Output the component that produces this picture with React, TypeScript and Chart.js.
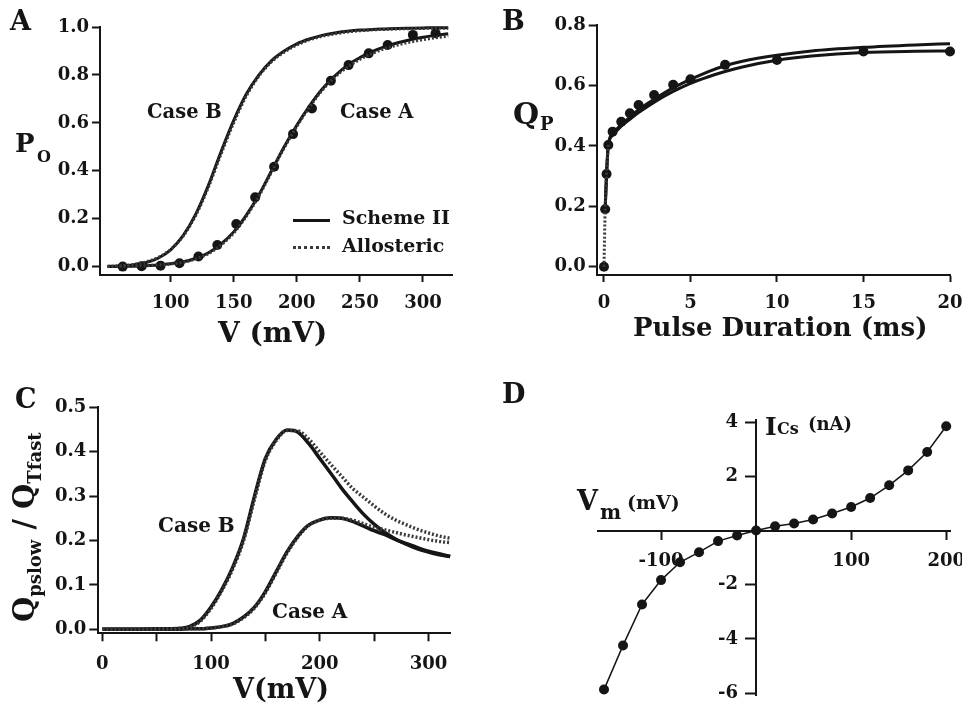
import React, { useEffect, useRef } from 'react';
import { Chart, registerables } from 'chart.js';
Chart.register(...registerables);

const PAGE_W = 962;
const PAGE_H = 706;
const INK = '#151515';
const DOT_INK = '#3a3a3a';
const FAMILY = "'DejaVu Serif', 'Liberation Serif', serif";

// ---------- Panel A : P_O vs V ----------
const A_CURVE_V = [50, 60, 70, 80, 90, 100, 110, 120, 130, 140, 150, 160, 170, 180, 190, 200, 210, 220, 230, 240, 250, 260, 270, 280, 290, 300, 310, 320];
const A_CASEA_SCHEME = [0.000, 0.001, 0.002, 0.004, 0.007, 0.012, 0.020, 0.035, 0.058, 0.095, 0.145, 0.215, 0.300, 0.400, 0.500, 0.590, 0.670, 0.740, 0.795, 0.840, 0.872, 0.898, 0.918, 0.934, 0.947, 0.957, 0.965, 0.972];
const A_CASEA_ALLO = [0.000, 0.001, 0.002, 0.004, 0.007, 0.011, 0.018, 0.032, 0.054, 0.090, 0.140, 0.210, 0.295, 0.395, 0.495, 0.585, 0.665, 0.735, 0.790, 0.832, 0.865, 0.890, 0.910, 0.925, 0.937, 0.947, 0.955, 0.962];
const A_CASEB_SCHEME = [0.001, 0.003, 0.007, 0.016, 0.035, 0.070, 0.130, 0.220, 0.340, 0.480, 0.610, 0.720, 0.800, 0.860, 0.900, 0.930, 0.950, 0.965, 0.975, 0.982, 0.987, 0.990, 0.992, 0.994, 0.995, 0.996, 0.997, 0.997];
const A_CASEB_ALLO = [0.001, 0.004, 0.009, 0.019, 0.038, 0.072, 0.128, 0.215, 0.332, 0.470, 0.600, 0.712, 0.795, 0.855, 0.895, 0.925, 0.946, 0.961, 0.971, 0.979, 0.984, 0.988, 0.990, 0.992, 0.993, 0.994, 0.995, 0.995];
const A_DATA_V = [62, 77, 92, 107, 122, 137, 152, 167, 182, 197, 212, 227, 241, 257, 272, 292, 310];
const A_DATA_PO = [0.0, 0.002, 0.004, 0.014, 0.042, 0.09, 0.178, 0.289, 0.417, 0.553, 0.66, 0.776, 0.841, 0.89, 0.925, 0.967, 0.974];
const A_X_TICKS = [100, 150, 200, 250, 300];
const A_Y_TICKS = [0, 0.2, 0.4, 0.6, 0.8, 1.0];

// ---------- Panel B : Q_P vs pulse duration ----------
const B_DATA_T = [0, 0.07, 0.15, 0.25, 0.5, 1, 1.5, 2, 2.9, 4, 5, 7, 10, 15, 20];
const B_DATA_Q = [0, 0.19, 0.307, 0.403, 0.447, 0.48, 0.508, 0.535, 0.568, 0.602, 0.62, 0.668, 0.684, 0.712, 0.712];
const B_RISE_T = [0, 0.07, 0.15, 0.25];
const B_RISE_Q = [0, 0.19, 0.307, 0.403];
const B_FIT_T = [0.07, 0.15, 0.25, 0.5, 1, 1.5, 2, 3, 4, 5, 6, 7, 8, 10, 12, 15, 18, 20];
const B_FIT_UPPER = [0.19, 0.307, 0.403, 0.44, 0.47, 0.495, 0.52, 0.558, 0.592, 0.62, 0.645, 0.665, 0.68, 0.70, 0.714, 0.726, 0.734, 0.738];
const B_FIT_LOWER = [0.19, 0.307, 0.40, 0.435, 0.465, 0.488, 0.51, 0.548, 0.58, 0.607, 0.628, 0.646, 0.661, 0.683, 0.697, 0.709, 0.713, 0.714];
const B_X_TICKS = [0, 5, 10, 15, 20];
const B_Y_TICKS = [0, 0.2, 0.4, 0.6, 0.8];

// ---------- Panel C : Qpslow / QTfast vs V ----------
const C_V = [0, 25, 50, 70, 80, 90, 100, 110, 120, 130, 140, 150, 160, 170, 180, 190, 200, 210, 220, 230, 240, 250, 260, 270, 280, 290, 300, 310, 320];
const C_CASEB_SCHEME = [0, 0, 0.001, 0.002, 0.006, 0.02, 0.05, 0.09, 0.14, 0.205, 0.30, 0.385, 0.428, 0.449, 0.444, 0.418, 0.385, 0.352, 0.318, 0.288, 0.26, 0.237, 0.218, 0.203, 0.191, 0.181, 0.174, 0.168, 0.164];
const C_CASEB_ALLO = [0, 0, 0.001, 0.002, 0.005, 0.018, 0.047, 0.087, 0.136, 0.2, 0.293, 0.38, 0.425, 0.448, 0.447, 0.428, 0.4, 0.372, 0.345, 0.318, 0.298, 0.278, 0.26, 0.246, 0.235, 0.225, 0.217, 0.21, 0.205];
const C_CASEA_SCHEME = [0, 0, 0, 0, 0.001, 0.001, 0.003, 0.006, 0.013, 0.028, 0.05, 0.085, 0.13, 0.175, 0.21, 0.235, 0.246, 0.251, 0.25, 0.243, 0.233, 0.222, 0.213, 0.202, 0.193, 0.184, 0.176, 0.17, 0.164];
const C_CASEA_ALLO = [0, 0, 0, 0, 0.001, 0.001, 0.003, 0.006, 0.012, 0.026, 0.048, 0.082, 0.127, 0.172, 0.208, 0.234, 0.246, 0.25, 0.25, 0.246, 0.238, 0.23, 0.224, 0.218, 0.212, 0.207, 0.202, 0.198, 0.195];
const C_X_TICKS = [0, 50, 100, 150, 200, 250, 300];
const C_Y_TICKS = [0, 0.1, 0.2, 0.3, 0.4, 0.5];

// ---------- Panel D : I_Cs vs Vm ----------
const D_V = [-160, -140, -120, -100, -80, -60, -40, -20, 0, 20, 40, 60, 80, 100, 120, 140, 160, 180, 200];
const D_I = [-5.87, -4.24, -2.73, -1.83, -1.17, -0.8, -0.39, -0.18, 0, 0.16, 0.26, 0.41, 0.63, 0.87, 1.2, 1.67, 2.22, 2.9, 3.85];
const D_X_TICKS = [-100, 100, 200];
const D_Y_TICKS = [-6, -4, -2, 2, 4];

const xy = (xs: number[], ys: number[]) => xs.map((x, i) => ({ x, y: ys[i] }));

type AxisOpts = {
  min: number; max: number; ticks: number[]; size: number; tickLen: number;
  fmt: (v: number) => string; position?: any; pad?: number;
};

function axis(o: AxisOpts) {
  return {
    type: 'linear',
    min: o.min,
    max: o.max,
    position: o.position,
    afterBuildTicks: (s: any) => { s.ticks = o.ticks.map((v) => ({ value: v })); },
    afterFit: (s: any) => {
      if (s.isHorizontal()) s.height = o.size; else s.width = o.size;
      s.paddingLeft = 0; s.paddingRight = 0; s.paddingTop = 0; s.paddingBottom = 0;
    },
    grid: { display: true, drawOnChartArea: false, drawTicks: true, tickLength: o.tickLen, tickWidth: 2, tickColor: INK, color: INK },
    border: { display: true, color: INK, width: 2 },
    ticks: {
      color: INK, padding: o.pad ?? 3, autoSkip: false, maxRotation: 0, minRotation: 0,
      font: { family: FAMILY, size: 18, weight: 'bold' },
      callback: (v: number) => o.fmt(v),
    },
  };
}

function padFor(area: { l: number; r: number; t: number; b: number }, ySize: number, xSize: number) {
  return { left: area.l - ySize, right: PAGE_W - area.r, top: area.t, bottom: PAGE_H - area.b - xSize };
}

function baseOptions(padding: any, scales: any) {
  return {
    responsive: false, maintainAspectRatio: false, animation: false, events: [],
    layout: { padding },
    plugins: { legend: { display: false }, tooltip: { enabled: false } },
    scales,
  };
}

const solid = (data: any[], w = 3) => ({ data, borderColor: INK, borderWidth: w, pointRadius: 0, cubicInterpolationMode: 'monotone', clip: false, fill: false });
const dotted = (data: any[], w = 3) => ({ data, borderColor: DOT_INK, borderWidth: w, borderDash: [2, 2], pointRadius: 0, cubicInterpolationMode: 'monotone', clip: false, fill: false });
const dots = (data: any[], r = 5) => ({ data, showLine: false, pointRadius: r, pointBackgroundColor: INK, pointBorderColor: INK, pointBorderWidth: 0, clip: false });

function configA() {
  return {
    type: 'line',
    data: { datasets: [
      dotted(xy(A_CURVE_V, A_CASEA_ALLO)),
      dotted(xy(A_CURVE_V, A_CASEB_ALLO)),
      solid(xy(A_CURVE_V, A_CASEA_SCHEME)),
      solid(xy(A_CURVE_V, A_CASEB_SCHEME)),
      dots(xy(A_DATA_V, A_DATA_PO)),
    ] },
    options: baseOptions(padFor({ l: 100, r: 452, t: 27, b: 275 }, 60, 40), {
      x: axis({ min: 44, max: 323, ticks: A_X_TICKS, size: 40, tickLen: 7, fmt: (v) => String(v), position: 'bottom', pad: 11 }),
      y: axis({ min: -0.035, max: 1.0, ticks: A_Y_TICKS, size: 60, tickLen: 8, fmt: (v) => v.toFixed(1), position: 'left' }),
    }),
  };
}

function configB() {
  return {
    type: 'line',
    data: { datasets: [
      dotted(xy(B_RISE_T, B_RISE_Q)),
      solid(xy(B_FIT_T, B_FIT_UPPER)),
      solid(xy(B_FIT_T, B_FIT_LOWER)),
      dots(xy(B_DATA_T, B_DATA_Q)),
    ] },
    options: baseOptions(padFor({ l: 596.7, r: 950, t: 25, b: 275 }, 60, 40), {
      x: axis({ min: -0.42, max: 20, ticks: B_X_TICKS, size: 40, tickLen: 7, fmt: (v) => String(v), position: 'bottom', pad: 11 }),
      y: axis({ min: -0.0276, max: 0.8, ticks: B_Y_TICKS, size: 60, tickLen: 8, fmt: (v) => v.toFixed(1), position: 'left' }),
    }),
  };
}

function configC() {
  return {
    type: 'line',
    data: { datasets: [
      dotted(xy(C_V, C_CASEB_ALLO), 3.5),
      dotted(xy(C_V, C_CASEA_ALLO), 3.5),
      solid(xy(C_V, C_CASEB_SCHEME), 3.5),
      solid(xy(C_V, C_CASEA_SCHEME), 3.5),
    ] },
    options: baseOptions(padFor({ l: 98.3, r: 450.7, t: 407.3, b: 633.3 }, 60, 40), {
      x: axis({ min: -3.7, max: 320.5, ticks: C_X_TICKS, size: 40, tickLen: 8, fmt: (v) => (v % 100 === 0 ? String(v) : ''), position: 'bottom', pad: 12 }),
      y: axis({ min: -0.009, max: 0.5, ticks: C_Y_TICKS, size: 60, tickLen: 9, fmt: (v) => v.toFixed(1), position: 'left' }),
    }),
  };
}

function configD() {
  return {
    type: 'line',
    data: { datasets: [
      { data: xy(D_V, D_I), borderColor: INK, borderWidth: 1.5, tension: 0, pointRadius: 5, pointBackgroundColor: INK, pointBorderColor: INK, pointBorderWidth: 0, clip: false, fill: false },
    ] },
    options: baseOptions({ left: 598.3, right: PAGE_W - 950, top: 420, bottom: PAGE_H - 695 }, {
      x: axis({ min: -166, max: 204, ticks: D_X_TICKS, size: 0, tickLen: 8, fmt: (v) => String(v), position: { y: 0 }, pad: 12 }),
      // labels of a value-positioned y axis are right-aligned on the axis line: an em space keeps them clear of the tick marks
      y: axis({ min: -6.07, max: 4.08, ticks: D_Y_TICKS, size: 0, tickLen: 10, fmt: (v) => String(v) + '\u2003', position: { x: 0 } }),
    }),
  };
}

function ChartCanvas({ make }: { make: () => any }) {
  const ref = useRef<HTMLCanvasElement>(null);
  useEffect(() => {
    const chart = new Chart(ref.current as HTMLCanvasElement, make());
    return () => chart.destroy();
  }, []);
  return <canvas ref={ref} width={PAGE_W} height={PAGE_H} style={{ position: 'absolute', left: 0, top: 0, width: PAGE_W, height: PAGE_H }} />;
}

function T({ x, cap, size, children, style }: { x: number; cap: number; size: number; children: any; style?: any }) {
  return (
    <div style={{ position: 'absolute', left: x, top: cap - 0.117 * size, fontSize: size, lineHeight: 1, fontFamily: FAMILY, fontWeight: 'bold', color: INK, whiteSpace: 'nowrap', ...style }}>
      {children}
    </div>
  );
}

function LegendLine({ x, y, w, dottedStyle }: { x: number; y: number; w: number; dottedStyle?: boolean }) {
  return <div style={{ position: 'absolute', left: x, top: y - 1.5, width: w, height: 0, borderTop: dottedStyle ? `3px dotted ${DOT_INK}` : `3px solid ${INK}` }} />;
}

export default function App() {
  return (
    <div style={{ position: 'absolute', left: 0, top: 0, width: PAGE_W, height: PAGE_H, overflow: 'hidden', background: '#fff' }}>
      <ChartCanvas make={configA} />
      <ChartCanvas make={configB} />
      <ChartCanvas make={configC} />
      <ChartCanvas make={configD} />

      {/* Panel A labels */}
      <T x={10} cap={10} size={27}>A</T>
      <T x={15} cap={133} size={26}>P</T>
      <T x={37} cap={151} size={16}>O</T>
      <T x={147} cap={104} size={19.5}>Case B</T>
      <T x={340} cap={104} size={19.5}>Case A</T>
      <LegendLine x={293} y={220} w={37} />
      <LegendLine x={293} y={247} w={37} dottedStyle />
      <T x={342} cap={210} size={19}>Scheme II</T>
      <T x={342} cap={238} size={19}>Allosteric</T>
      <T x={218} cap={322} size={28}>V (mV)</T>

      {/* Panel B labels */}
      <T x={502} cap={10} size={27}>B</T>
      <T x={513} cap={103} size={30}>Q</T>
      <T x={540} cap={117} size={18}>P</T>
      <T x={633} cap={317} size={26}>Pulse Duration (ms)</T>

      {/* Panel C labels */}
      <T x={15} cap={388} size={27}>C</T>
      <div style={{ position: 'absolute', left: 10, top: 622, transform: 'rotate(-90deg)', transformOrigin: 'left top', fontFamily: FAMILY, fontWeight: 'bold', color: INK, whiteSpace: 'nowrap', lineHeight: 1, fontSize: 29 }}>
        Q<span style={{ fontSize: 18, position: 'relative', top: 7 }}>pslow</span> / Q<span style={{ fontSize: 18, position: 'relative', top: 7 }}>Tfast</span>
      </div>
      <T x={233} cap={678} size={27}>V(mV)</T>
      <T x={158} cap={517} size={20}>Case B</T>
      <T x={272} cap={603} size={20}>Case A</T>

      {/* Panel D labels */}
      <T x={502} cap={383} size={27}>D</T>
      <T x={765} cap={417} size={25}>I</T>
      <T x={777} cap={423} size={16}>Cs</T>
      <T x={808} cap={417} size={18}>(nA)</T>
      <T x={577} cap={490} size={27}>V</T>
      <T x={600} cap={504} size={20}>m</T>
      <T x={627} cap={495} size={19}>(mV)</T>
    </div>
  );
}
